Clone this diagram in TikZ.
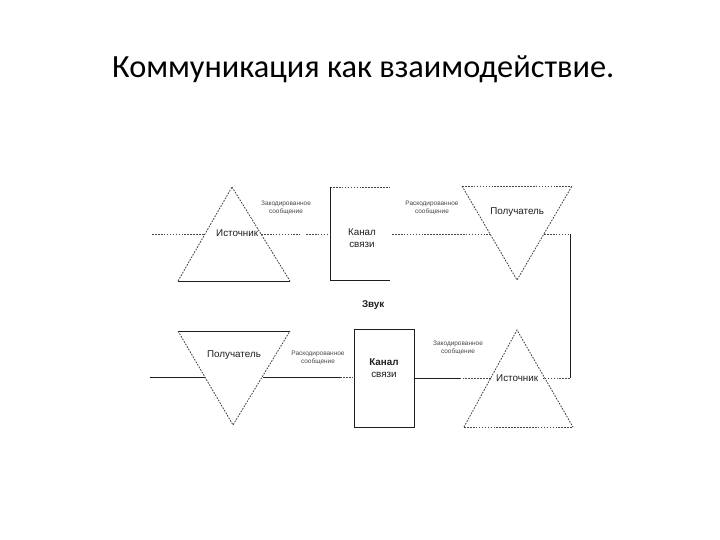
\documentclass[tikz,border=0pt]{standalone}
\usepackage{fontspec}
\setmainfont{Carlito}
\newfontfamily\lblfont{Liberation Sans}
\usetikzlibrary{positioning, calc}
\usepackage{xcolor}
\definecolor{DG}{RGB}{30,30,30}
\definecolor{LGr}{RGB}{70,70,70}
\tikzset{
  dotline/.style={draw=LGr, dash pattern=on 1.2pt off 0.9pt, line width=0.6pt},
  solidline/.style={draw=DG, line width=0.6pt},
  lbl/.style={font=\lblfont\fontsize{7}{8}\selectfont, text=DG, align=center},
  msg/.style={font=\lblfont\fontsize{4.6}{5.4}\selectfont, text=LGr, align=center},
}
\begin{document}
\begin{tikzpicture}
\useasboundingbox (0,0) rectangle (18,-13.5);

% Title
\node[font=\fontsize{23}{27}\selectfont] (title) at (9.08,-1.72) {Коммуникация как взаимодействие.};

% Top row: source, channel, receiver
\coordinate (srcA) at (5.8,-4.675);
\coordinate (srcL) at (4.45,-7.025);
\coordinate (srcR) at (7.25,-7.025);
\draw[dotline] (srcL) -- (srcA);
\draw[dotline] (srcA) -- (srcR);
\draw[solidline] (srcL) -- (srcR);

\coordinate (chTL) at (8.25,-4.675);
\coordinate (chTR) at (9.75,-4.675);
\coordinate (chBL) at (8.25,-7.0);
\coordinate (chBR) at (9.75,-7.0);
\draw[dotline] (chTL) -- (chTR);
\draw[solidline] (chTL) -- (chBL) -- (chBR);

\coordinate (rcvL) at (11.55,-4.65);
\coordinate (rcvR) at (14.3,-4.65);
\coordinate (rcvA) at (12.925,-7.0);
\draw[dotline] (rcvL) -- (rcvR);
\draw[dotline] (rcvL) -- (rcvA) -- (rcvR);

% Bottom row: receiver, channel, source
\coordinate (rcvbL) at (4.45,-8.275);
\coordinate (rcvbR) at (7.25,-8.275);
\coordinate (rcvbA) at (5.825,-10.625);
\draw[solidline] (rcvbL) -- (rcvbR);
\draw[dotline] (rcvbL) -- (rcvbA) -- (rcvbR);

\draw[solidline] (8.85,-8.225) rectangle (10.35,-10.675);
\coordinate (chbL) at (8.85,-9.425);
\coordinate (chbR) at (10.35,-9.45);

\coordinate (srcbA) at (12.925,-8.25);
\coordinate (srcbL) at (11.6,-10.675);
\coordinate (srcbR) at (14.325,-10.675);
\draw[dotline] (srcbL) -- (srcbA) -- (srcbR);
\draw[dotline] (srcbL) -- (srcbR);

% Labels
\node[lbl] (src) at (5.93,-5.83) {Источник};
\node[lbl] (ch) at (9.05,-5.95) {Канал\\[1pt]связи};
\node[lbl] (rcv) at (12.93,-5.3) {Получатель};
\node[lbl] (rcvb) at (5.85,-8.88) {Получатель};
\node[lbl] (chb) at (9.6,-9.2) {\textbf{Канал}\\[1pt]связи};
\node[lbl] (srcb) at (12.93,-9.45) {Источник};
\node[lbl] (noise) at (9.33,-7.63) {\textbf{Звук}};

\node[msg] (encA) at (7.15,-5.2) {Закодированное\\сообщение};
\node[msg] (decA) at (10.8,-5.2) {Раскодированное\\сообщение};
\node[msg] (decB) at (7.95,-8.95) {Раскодированное\\сообщение};
\node[msg] (encB) at (11.45,-8.7) {Закодированное\\сообщение};

% Connectors
\coordinate (inA) at (3.8,-5.85);
\coordinate (srcE1) at (5.125,-5.85);
\coordinate (srcE2) at (6.525,-5.85);
\coordinate (outA) at (7.5,-5.85);
\coordinate (midA) at (7.65,-5.85);
\coordinate (chIn) at (8.25,-5.85);
\coordinate (chOut) at (9.8,-5.85);
\coordinate (rcvE1) at (12.25,-5.85);
\coordinate (rcvE2) at (13.6,-5.85);
\coordinate (turn1) at (14.25,-5.85);
\coordinate (turn2) at (14.25,-9.45);
\draw[dotline] (inA) -- (srcE1);
\draw[dotline] (srcE2) -- (outA);
\draw[dotline] (midA) -- (chIn);
\draw[dotline] (chOut) -- (rcvE1);
\draw[dotline] (rcvE2) -- (turn1);
\draw[solidline] (turn1) -- (turn2);

\coordinate (srcbE1) at (12.27,-9.45);
\coordinate (srcbE2) at (13.58,-9.45);
\coordinate (knee) at (11.5,-9.45);
\draw[dotline] (turn2) -- (srcbE2);
\draw[dotline] (srcbE1) -- (knee);
\draw[solidline] (knee) -- (chbR);

\coordinate (rcvbE1) at (5.12,-9.425);
\coordinate (rcvbE2) at (6.58,-9.425);
\coordinate (outB) at (3.75,-9.425);
\coordinate (kneeB) at (8.5,-9.425);
\draw[solidline] (rcvbE2) -- (kneeB);
\draw[dotline] (kneeB) -- (chbL);
\draw[solidline] (outB) -- (rcvbE1);
\end{tikzpicture}
\end{document}
